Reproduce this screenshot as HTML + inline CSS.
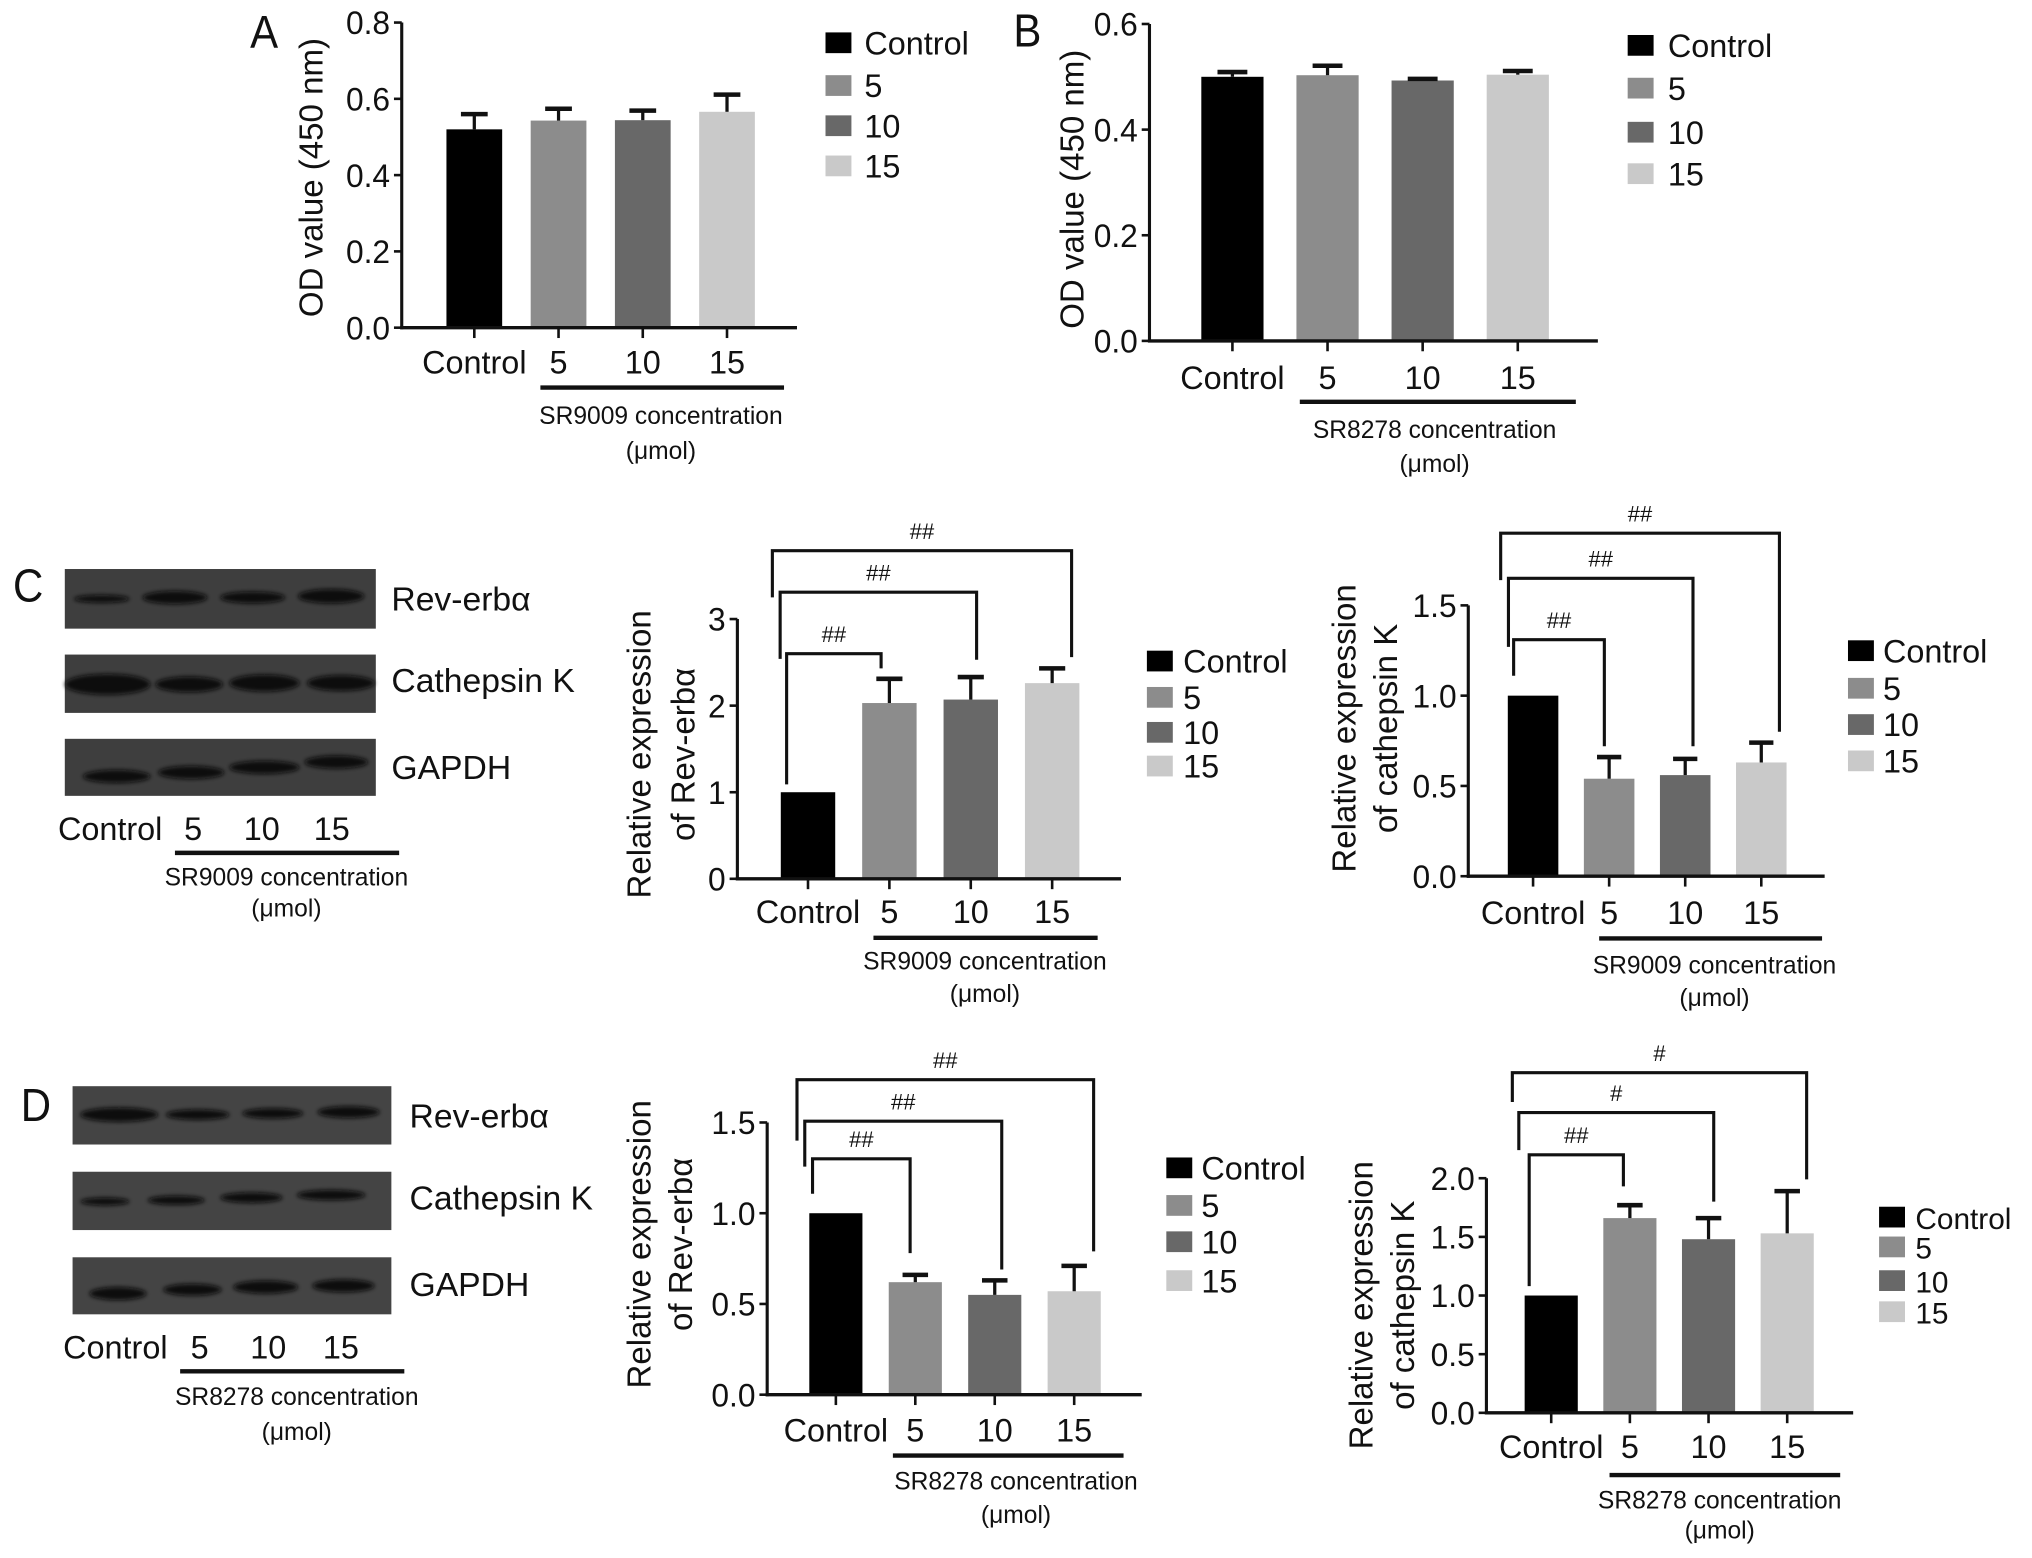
<!DOCTYPE html>
<html><head><meta charset="utf-8"><title>SR9009 / SR8278 figure</title>
<style>html,body{margin:0;padding:0;background:#fff}svg{display:block}</style></head>
<body>
<svg id="fig" xmlns="http://www.w3.org/2000/svg" width="2032" height="1558" viewBox="0 0 1568 1202" preserveAspectRatio="none" font-family="'Liberation Sans', Arial, sans-serif">
<defs><filter id="blur" x="-20%" y="-100%" width="140%" height="300%"><feGaussianBlur stdDeviation="1.6"/></filter></defs>
<rect x="0" y="0" width="1568" height="1202" fill="#fff"/>
</svg>
<script>
// ---------------- data ----------------
const categories = ['Control', '5', '10', '15'];
const legendLabels = ['Control', '5', '10', '15'];
const aMeans = [0.52, 0.543, 0.544, 0.566];
const aErrs = [0.04, 0.031, 0.025, 0.045];
const bMeans = [0.500, 0.503, 0.493, 0.504];
const bErrs = [0.009, 0.018, 0.003, 0.007];
const cRevMeans = [1.0, 2.03, 2.07, 2.26];
const cRevErrs = [0, 0.28, 0.26, 0.17];
const cCatMeans = [1.0, 0.54, 0.56, 0.63];
const cCatErrs = [0, 0.12, 0.09, 0.11];
const dRevMeans = [1.0, 0.62, 0.55, 0.57];
const dRevErrs = [0, 0.04, 0.08, 0.14];
const dCatMeans = [1.0, 1.66, 1.48, 1.53];
const dCatErrs = [0, 0.11, 0.18, 0.36];
const aTicks = [0, 0.2, 0.4, 0.6, 0.8];
const aTickLabels = ['0.0', '0.2', '0.4', '0.6', '0.8'];
const bTicks = [0, 0.2, 0.4, 0.6];
const bTickLabels = ['0.0', '0.2', '0.4', '0.6'];
const cRevTicks = [0, 1, 2, 3];
const cRevTickLabels = ['0', '1', '2', '3'];
const halfTicks = [0, 0.5, 1.0, 1.5];
const halfTickLabels = ['0.0', '0.5', '1.0', '1.5'];
const dCatTicks = [0, 0.5, 1.0, 1.5, 2.0];
const dCatTickLabels = ['0.0', '0.5', '1.0', '1.5', '2.0'];
// brackets: [targetIndex, level, leftBottom, rightBottom] in data units
const cRevBrackets = [[3, 3.79, 3.25, 2.56], [2, 3.31, 2.54, 2.53], [1, 2.60, 1.09, 2.43]];
const cRevBracketLabels = ['##', '##', '##'];
const cCatBrackets = [[3, 1.90, 1.64, 0.80], [2, 1.65, 1.27, 0.72], [1, 1.31, 1.11, 0.72]];
const cCatBracketLabels = ['##', '##', '##'];
const dRevBrackets = [[3, 1.736, 1.40, 0.79], [2, 1.507, 1.257, 0.69], [1, 1.30, 1.107, 0.78]];
const dRevBracketLabels = ['##', '##', '##'];
const dCatBrackets = [[3, 2.90, 2.65, 1.99], [2, 2.56, 2.24, 1.80], [1, 2.20, 1.08, 1.93]];
const dCatBracketLabels = ['#', '#', '##'];

const colors = ['#000000', '#8c8c8c', '#686868', '#c9c9c9'];
const NS = 'http://www.w3.org/2000/svg';
const svg = document.getElementById('fig');

function mk(tag, attrs, name, parent) {
  const el = document.createElementNS(NS, tag);
  for (const k in attrs) el.setAttribute(k, attrs[k]);
  
  
  (parent || svg).appendChild(el);
  return el;
}
function txt(x, y, s, size, anchor, sx, name, parent, rot) {
  const t = document.createElementNS(NS, 'text');
  t.setAttribute('transform', 'translate(' + x + ',' + y + ')' + (rot ? ' rotate(' + rot + ')' : '') + ' scale(' + sx + ',1)');
  t.setAttribute('font-size', size);
  t.setAttribute('text-anchor', anchor);
  t.setAttribute('fill', '#111');
  t.textContent = s;
  
  
  (parent || svg).appendChild(t);
  return t;
}

function chart(cfg) {
  const g = mk('g', {}, cfg.name);
  const yPx = v => cfg.yZero - v * cfg.ppu;
  const xPx = i => cfg.firstC + i * cfg.step;
  cfg.means.forEach((m, i) => {
    mk('rect', { x: xPx(i) - cfg.barW / 2, y: yPx(m), width: cfg.barW, height: cfg.yZero - yPx(m), fill: colors[i] }, 'bar-' + categories[i].toLowerCase(), g);
    if (cfg.errs[i] > 0) {
      mk('line', { x1: xPx(i), x2: xPx(i), y1: yPx(m), y2: yPx(m + cfg.errs[i]), stroke: '#111', 'stroke-width': 2.5 }, 'error-bar-' + categories[i].toLowerCase(), g);
      mk('line', { x1: xPx(i) - cfg.barW * 0.24, x2: xPx(i) + cfg.barW * 0.24, y1: yPx(m + cfg.errs[i]), y2: yPx(m + cfg.errs[i]), stroke: '#111', 'stroke-width': 3.5 }, 'error-cap', g);
    }
  });
  const top = yPx(cfg.ticks[cfg.ticks.length - 1]);
  mk('line', { x1: cfg.axisX, x2: cfg.axisX, y1: top, y2: cfg.yZero + 1.2, stroke: '#111', 'stroke-width': 2.4 }, 'y-axis', g);
  mk('line', { x1: cfg.axisX - 1.2, x2: cfg.axisEnd, y1: cfg.yZero, y2: cfg.yZero, stroke: '#111', 'stroke-width': 2.6 }, 'x-axis', g);
  cfg.ticks.forEach((t, i) => {
    mk('line', { x1: cfg.axisX - 6, x2: cfg.axisX, y1: yPx(t), y2: yPx(t), stroke: '#111', 'stroke-width': 2 }, 'y-tick', g);
    txt(cfg.axisX - 9, yPx(t) + 9, cfg.tickLabels[i], 25, 'end', 0.98, 'y-tick-label', g);
  });
  categories.forEach((c, i) => {
    mk('line', { x1: xPx(i), x2: xPx(i), y1: cfg.yZero, y2: cfg.yZero + 8, stroke: '#111', 'stroke-width': 2 }, 'x-tick', g);
    txt(xPx(i), cfg.xLabY, c, 25, 'middle', 1.0, 'x-tick-label', g);
  });
  mk('line', { x1: cfg.ul[0], x2: cfg.ul[1], y1: cfg.ul[2], y2: cfg.ul[2], stroke: '#111', 'stroke-width': 3.4 }, 'concentration-underline', g);
  txt(cfg.subX, cfg.subY[0], cfg.subText, 19, 'middle', 1.0, 'x-axis-title', g);
  txt(cfg.subX, cfg.subY[1], '(\u03bcmol)', 19, 'middle', 1.0, 'x-axis-unit', g);
  cfg.yTitle.forEach((line, k) => {
    txt(cfg.yTitleX[k] + 9, cfg.yTitleC, line, 25.5, 'middle', 1, 'y-axis-title', g, -90);
  });
  legendLabels.forEach((l, i) => {
    mk('rect', { x: cfg.leg.x, y: cfg.leg.ys[i] - 8, width: 20, height: 16, fill: colors[i] }, 'legend-swatch-' + l.toLowerCase(), g);
    txt(cfg.leg.lx, cfg.leg.ys[i] + 9, l, cfg.leg.size, 'start', 1.0, 'legend-entry', g);
  });
  if (cfg.brackets) {
    cfg.brackets.forEach((b, k) => {
      const lx = xPx(0) + cfg.bl[k], rx = xPx(b[0]) + cfg.br[k];
      mk('polyline', { points: lx + ',' + yPx(b[2]) + ' ' + lx + ',' + yPx(b[1]) + ' ' + rx + ',' + yPx(b[1]) + ' ' + rx + ',' + yPx(b[3]), fill: 'none', stroke: '#111', 'stroke-width': 2.4 }, 'significance-bracket', g);
      txt((lx + rx) / 2, yPx(b[1]) - 9, cfg.bracketLabels[k], 17, 'middle', 1.0, 'significance-label', g);
    });
  }
}

chart({ name: 'chart-a', means: aMeans, errs: aErrs, ticks: aTicks, tickLabels: aTickLabels,
  axisX: 310, axisEnd: 615, yZero: 252.8, ppu: 294.25, firstC: 366, step: 65, barW: 43,
  xLabY: 288, ul: [417, 605, 299], subX: 510, subY: [327, 354], subText: 'SR9009 concentration',
  yTitle: ['OD value (450 nm)'], yTitleX: [240], yTitleC: 137,
  leg: { x: 637, ys: [33, 66, 97, 128], lx: 667, size: 25 } });
chart({ name: 'chart-b', means: bMeans, errs: bErrs, ticks: bTicks, tickLabels: bTickLabels,
  axisX: 887, axisEnd: 1233, yZero: 263, ppu: 407.5, firstC: 951, step: 73.4, barW: 48,
  xLabY: 300, ul: [1003, 1216, 310], subX: 1107, subY: [338, 364], subText: 'SR8278 concentration',
  yTitle: ['OD value (450 nm)'], yTitleX: [827], yTitleC: 146,
  leg: { x: 1256, ys: [35, 68, 102, 134], lx: 1287, size: 25 } });
chart({ name: 'chart-c-rev-erba', means: cRevMeans, errs: cRevErrs, ticks: cRevTicks, tickLabels: cRevTickLabels,
  axisX: 569, axisEnd: 865, yZero: 678, ppu: 66.8, firstC: 623.5, step: 62.8, barW: 42,
  xLabY: 712, ul: [674, 847, 723.5], subX: 760, subY: [748, 773], subText: 'SR9009 concentration',
  yTitle: ['Relative expression', 'of Rev-erb\u03b1'], yTitleX: [493, 527], yTitleC: 582,
  leg: { x: 885, ys: [510, 538, 565, 591], lx: 913, size: 25 },
  brackets: cRevBrackets, bracketLabels: cRevBracketLabels, bl: [-27.5, -21.5, -16.5], br: [15, 4.5, -6.4] });
chart({ name: 'chart-c-cathepsin-k', means: cCatMeans, errs: cCatErrs, ticks: halfTicks, tickLabels: halfTickLabels,
  axisX: 1133, axisEnd: 1408, yZero: 676, ppu: 139.3, firstC: 1183, step: 58.7, barW: 39,
  xLabY: 713, ul: [1234, 1406, 724], subX: 1323, subY: [751, 776], subText: 'SR9009 concentration',
  yTitle: ['Relative expression', 'of cathepsin K'], yTitleX: [1037, 1069], yTitleC: 562,
  leg: { x: 1426, ys: [502, 531, 559, 587], lx: 1453, size: 25 },
  brackets: cCatBrackets, bracketLabels: cCatBracketLabels, bl: [-25, -19, -15], br: [14, 6, -3.7] });
chart({ name: 'chart-d-rev-erba', means: dRevMeans, errs: dRevErrs, ticks: halfTicks, tickLabels: halfTickLabels,
  axisX: 592, axisEnd: 881, yZero: 1076, ppu: 140, firstC: 645, step: 61.3, barW: 41,
  xLabY: 1112, ul: [689, 867, 1123], subX: 784, subY: [1149, 1175], subText: 'SR8278 concentration',
  yTitle: ['Relative expression', 'of Rev-erb\u03b1'], yTitleX: [493, 525], yTitleC: 960,
  leg: { x: 900, ys: [901, 930, 958, 988], lx: 927, size: 25 },
  brackets: dRevBrackets, bracketLabels: dRevBracketLabels, bl: [-30, -24, -18], br: [15, 5.4, -4] });
chart({ name: 'chart-d-cathepsin-k', means: dCatMeans, errs: dCatErrs, ticks: dCatTicks, tickLabels: dCatTickLabels,
  axisX: 1147, axisEnd: 1430, yZero: 1090, ppu: 90.5, firstC: 1197, step: 60.7, barW: 41,
  xLabY: 1125, ul: [1242, 1420, 1138], subX: 1327, subY: [1164, 1187], subText: 'SR8278 concentration',
  yTitle: ['Relative expression', 'of cathepsin K'], yTitleX: [1050, 1082], yTitleC: 1007,
  leg: { x: 1450, ys: [939, 962, 988, 1012], lx: 1478, size: 23 },
  brackets: dCatBrackets, bracketLabels: dCatBracketLabels, bl: [-30, -25, -17], br: [15, 4, -5] });

txt(193, 37, 'A', 36, 'start', 0.9, 'panel-label-a');
txt(782, 36, 'B', 36, 'start', 0.9, 'panel-label-b');
txt(10, 464, 'C', 36, 'start', 0.9, 'panel-label-c');
txt(16, 865, 'D', 36, 'start', 0.9, 'panel-label-d');

function blot(name, box, bands, label, labelX, labelY, fill) {
  const g = mk('g', {}, name);
  mk('rect', { x: box[0], y: box[1], width: box[2] - box[0], height: box[3] - box[1], fill: fill }, 'blot-membrane', g);
  bands.forEach(b => {
    mk('ellipse', { cx: (b[0] + b[1]) / 2, cy: b[2], rx: (b[1] - b[0]) / 2, ry: b[3] / 2, fill: '#0a0a0a', filter: 'url(#blur)' }, 'blot-band', g);
  });
  txt(labelX, labelY, label, 26, 'start', 1.0, 'blot-label', g);
}
blot('blot-c-rev-erba', [50, 439, 290, 485], [[57, 100, 462, 6], [110, 160, 461, 10], [170, 220, 461, 9], [230, 281, 460, 11]], 'Rev-erb\u03b1', 302, 471, '#3e3e3e');
blot('blot-c-cathepsin-k', [50, 505, 290, 550], [[50, 116, 528, 16], [120, 172, 528, 12], [177, 231, 527, 13], [237, 289, 527, 12]], 'Cathepsin K', 302, 534, '#3e3e3e');
blot('blot-c-gapdh', [50, 570, 290, 614], [[64, 116, 599, 10], [122, 173, 596, 10], [177, 231, 592, 10], [235, 284, 588, 10]], 'GAPDH', 302, 601, '#3e3e3e');
blot('blot-d-rev-erba', [56, 838, 302, 883], [[62, 122, 860, 11], [128, 177, 860, 8], [187, 234, 859, 8], [245, 293, 858, 9]], 'Rev-erb\u03b1', 316, 870, '#444');
blot('blot-d-cathepsin-k', [56, 904, 302, 949], [[62, 100, 927, 6], [114, 158, 926, 7], [170, 218, 924, 8], [229, 282, 922, 8]], 'Cathepsin K', 316, 933, '#444');
blot('blot-d-gapdh', [56, 970, 302, 1014], [[69, 113, 998, 10], [126, 171, 995, 9], [180, 230, 993, 10], [241, 289, 992, 10]], 'GAPDH', 316, 1000, '#444');

function blotAxis(name, xs, y, ul, subX, subY, sub) {
  const g = mk('g', {}, name);
  categories.forEach((c, i) => txt(xs[i], y, c, 25, 'middle', 1.0, 'lane-label', g));
  mk('line', { x1: ul[0], x2: ul[1], y1: ul[2], y2: ul[2], stroke: '#111', 'stroke-width': 3.4 }, 'concentration-underline', g);
  txt(subX, subY[0], sub, 19, 'middle', 1.0, 'concentration-title', g);
  txt(subX, subY[1], '(\u03bcmol)', 19, 'middle', 1.0, 'concentration-unit', g);
}
blotAxis('blot-c-lanes', [85, 149, 202, 256], 648, [135, 308, 658], 221, [683, 707], 'SR9009 concentration');
blotAxis('blot-d-lanes', [89, 154, 207, 263], 1048, [139, 312, 1058], 229, [1084, 1111], 'SR8278 concentration');
</script>
</body></html>
